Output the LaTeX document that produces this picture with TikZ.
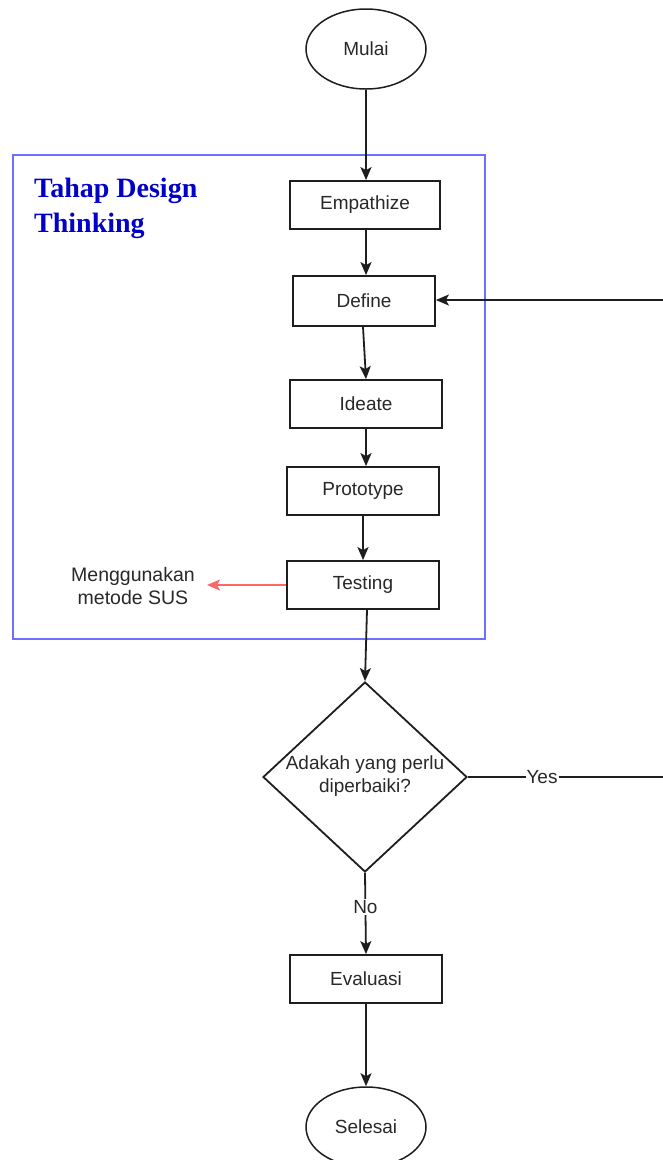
\documentclass[tikz,border=0pt]{standalone}
\usepackage{fontspec}
\setmainfont{Liberation Sans}
\newfontfamily\titlefont{Liberation Serif}
\usetikzlibrary{shapes.geometric,arrows.meta}
\definecolor{lineclr}{RGB}{30,30,30}
\definecolor{txtclr}{RGB}{40,40,40}
\definecolor{frameclr}{RGB}{110,110,255}
\definecolor{titleclr}{RGB}{0,0,200}
\definecolor{redclr}{RGB}{255,102,102}
\begin{document}
\begin{tikzpicture}[x=1pt,y=-1pt,
  every node/.style={font=\fontsize{19}{23}\selectfont, text=txtclr},
  procbox/.style={draw=lineclr, line width=1.8pt, rectangle, inner sep=0pt, fill=white},
  term/.style={draw=lineclr, line width=1.5pt, ellipse, inner sep=0pt, minimum width=120pt, minimum height=80pt},
  tip/.style={-{Stealth[length=13pt,width=11pt,inset=3pt]}},
  conn/.style={draw=lineclr, line width=1.8pt, tip},
  plain/.style={draw=lineclr, line width=1.8pt},
  lbl/.style={fill=white, inner sep=1pt}]
\useasboundingbox (0,0) rectangle (663,1160);
% frame
\draw[frameclr, line width=1.4pt] (13,155) rectangle (485,639);
\node[anchor=north west, align=left, inner sep=0pt, font=\titlefont\bfseries\fontsize{28}{35}\selectfont, text=titleclr] (title) at (34,178) {Tahap Design\\Thinking};
% nodes
\node[term] (mulai) at (366,49) {Mulai};
\node[procbox, minimum width=150pt, minimum height=48pt] (emp) at (365,205) {Empathize};
\node[procbox, minimum width=142pt, minimum height=50pt] (def) at (364,301) {Define};
\node[procbox, minimum width=152pt, minimum height=48pt] (ide) at (366,404) {Ideate};
\node[procbox, minimum width=152pt, minimum height=48pt] (pro) at (363,491) {Prototype};
\node[procbox, minimum width=152pt, minimum height=48pt] (tes) at (363,585) {Testing};
\node[align=center, inner xsep=12pt, inner ysep=0pt, font=\fontsize{19.5}{23}\selectfont] (note) at (133,586) {Menggunakan\\metode SUS};
\node[draw=lineclr, line width=1.8pt, diamond, inner sep=0pt, minimum width=204pt, minimum height=190pt] (dec) at (365,777) {};
\node[align=center, inner sep=0pt] (dectext) at (365,776) {Adakah yang perlu\\diperbaiki?};
\node[procbox, minimum width=152pt, minimum height=48pt] (eva) at (366,979) {Evaluasi};
\node[term] (sel) at (366,1127) {Selesai};
\coordinate (fb) at (663,300);
\coordinate (yesend) at (663,777);
% connectors
\draw[conn] (mulai.south) -- (mulai.south |- emp.north);
\draw[conn] ([xshift=1pt]emp.south) -- ([xshift=1pt]emp.south |- def.north);
\draw[conn] ([xshift=-1pt]def.south) -- (ide.north);
\draw[conn] (ide.south) -- (ide.south |- pro.north);
\draw[conn] (pro.south) -- (tes.north);
\draw[conn] ([xshift=4pt]tes.south) -- (dec.north);
\draw[draw=redclr, line width=1.8pt, tip] (tes.west) -- (tes.west -| note.east);
\draw[plain] (dec.east) -- node[lbl, pos=0.38] (yes) {Yes} (yesend);
\draw[conn] (fb) -- (fb -| def.east);
\draw[conn] (dec.south) -- node[lbl, pos=0.42] (no) {No} (eva.north);
\draw[conn] (eva.south) -- (sel.north);
\end{tikzpicture}
\end{document}
